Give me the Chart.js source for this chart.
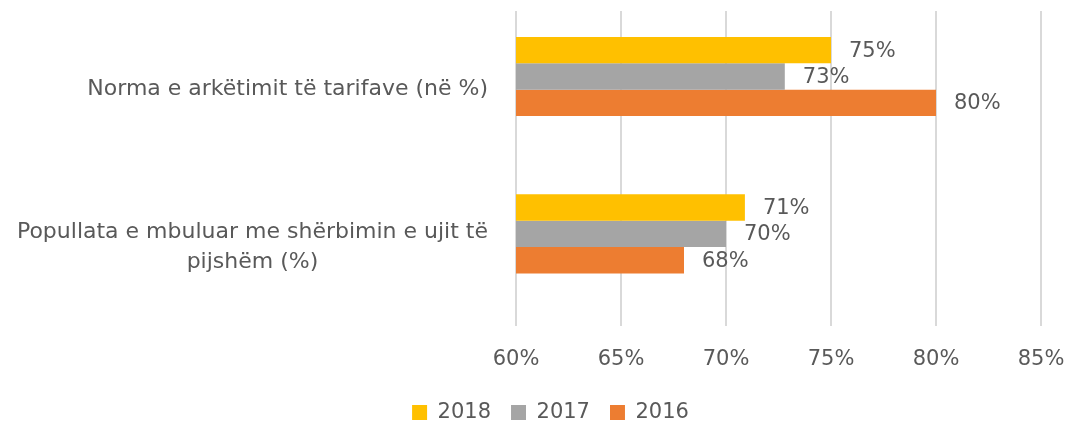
<!DOCTYPE html>
<html>
<head>
<meta charset="utf-8">
<script src="https://cdn.jsdelivr.net/npm/chart.js@4"></script>
<style>
  html, body { margin: 0; padding: 0; background: #fff; }
  #wrap { width: 1065px; height: 421px; position: relative; }
</style>
</head>
<body>
<div id="wrap"><canvas id="c"></canvas></div>
<script>
// ---- data ----
const categories = [
  ['Norma e arkëtimit të tarifave (në %)'],
  ['Popullata e mbuluar me shërbimin e ujit të', 'pijshëm (%)']
];
const seriesNames = ['2018', '2017', '2016'];
const values2018 = [75, 70.9];
const values2017 = [72.8, 70];
const values2016 = [80, 68];
const xTicks = [60, 65, 70, 75, 80, 85];
const seriesColors = ['#FFC000', '#A5A5A5', '#ED7D31'];

const TEXT = '#595959';
const FONT = 'DejaVu Sans';
Chart.defaults.font.family = FONT;
Chart.defaults.color = TEXT;

const categoryLabelsPlugin = {
  id: 'categoryLabels',
  afterDraw(chart) {
    const ctx = chart.ctx;
    const yScale = chart.scales.y;
    const area = chart.chartArea;
    ctx.save();
    ctx.font = '22px "' + FONT + '"';
    ctx.fillStyle = TEXT;
    ctx.textBaseline = 'middle';
    ctx.textAlign = 'center';
    const lineH = 30;
    categories.forEach((lines, i) => {
      const cy = yScale.getPixelForTick(i);
      const w = Math.max(...lines.map(l => ctx.measureText(l).width));
      const right = area.left - 28;
      const cx = right - w / 2;
      const top = cy - (lines.length - 1) * lineH / 2;
      lines.forEach((l, j) => ctx.fillText(l, cx, top + j * lineH));
    });
    ctx.restore();
  }
};

const valueLabelsPlugin = {
  id: 'valueLabels',
  afterDatasetsDraw(chart) {
    const ctx = chart.ctx;
    ctx.save();
    ctx.font = '21px "' + FONT + '"';
    ctx.fillStyle = TEXT;
    ctx.textBaseline = 'middle';
    ctx.textAlign = 'left';
    chart.data.datasets.forEach((ds, di) => {
      if (ds.isSpacer) return;
      const meta = chart.getDatasetMeta(di);
      meta.data.forEach((el, i) => {
        const v = ds.data[i];
        if (v == null) return;
        ctx.fillText(Math.round(v) + '%', el.x + 18, el.y + 1);
      });
    });
    ctx.restore();
  }
};

const seriesValues = [values2018, values2017, values2016];
const datasets = seriesNames.map((name, i) => ({
  label: name,
  data: seriesValues[i],
  backgroundColor: seriesColors[i],
  borderWidth: 0,
  barPercentage: 1.0,
  categoryPercentage: 0.671
}));
// empty slot kept below the three bars of each group (as in the original layout)
datasets.push({
  label: '',
  isSpacer: true,
  data: categories.map(() => null),
  backgroundColor: 'rgba(0,0,0,0)',
  barPercentage: 1.0,
  categoryPercentage: 0.671
});

new Chart(document.getElementById('c'), {
  type: 'bar',
  data: {
    labels: categories.map(l => l.join(' ')),
    datasets: datasets
  },
  options: {
    indexAxis: 'y',
    responsive: true,
    maintainAspectRatio: false,
    animation: false,
    layout: { padding: { top: 11, left: 60, right: 24, bottom: -12 } },
    scales: {
      x: {
        min: xTicks[0],
        max: xTicks[xTicks.length - 1],
        afterBuildTicks(scale) { scale.ticks = xTicks.map(v => ({ value: v })); },
        ticks: {
          callback: v => v + '%',
          font: { size: 21 },
          color: TEXT,
          padding: 21,
          maxRotation: 0
        },
        grid: { color: '#D9D9D9', lineWidth: 2, drawTicks: false },
        border: { display: false },
        afterFit(scale) {
          scale.height -= 11;
          scale.paddingRight = 0;
          scale.paddingLeft = 0;
        }
      },
      y: {
        ticks: { display: false },
        grid: { display: false, drawTicks: false },
        border: { display: false },
        afterFit(scale) { scale.width = 456; }
      }
    },
    plugins: {
      legend: {
        position: 'bottom',
        labels: {
          boxWidth: 15,
          boxHeight: 15,
          padding: 20,
          font: { size: 21 },
          color: TEXT,
          filter: item => item.text !== ''
        }
      },
      tooltip: { enabled: false }
    }
  },
  plugins: [categoryLabelsPlugin, valueLabelsPlugin]
});
</script>
</body>
</html>
